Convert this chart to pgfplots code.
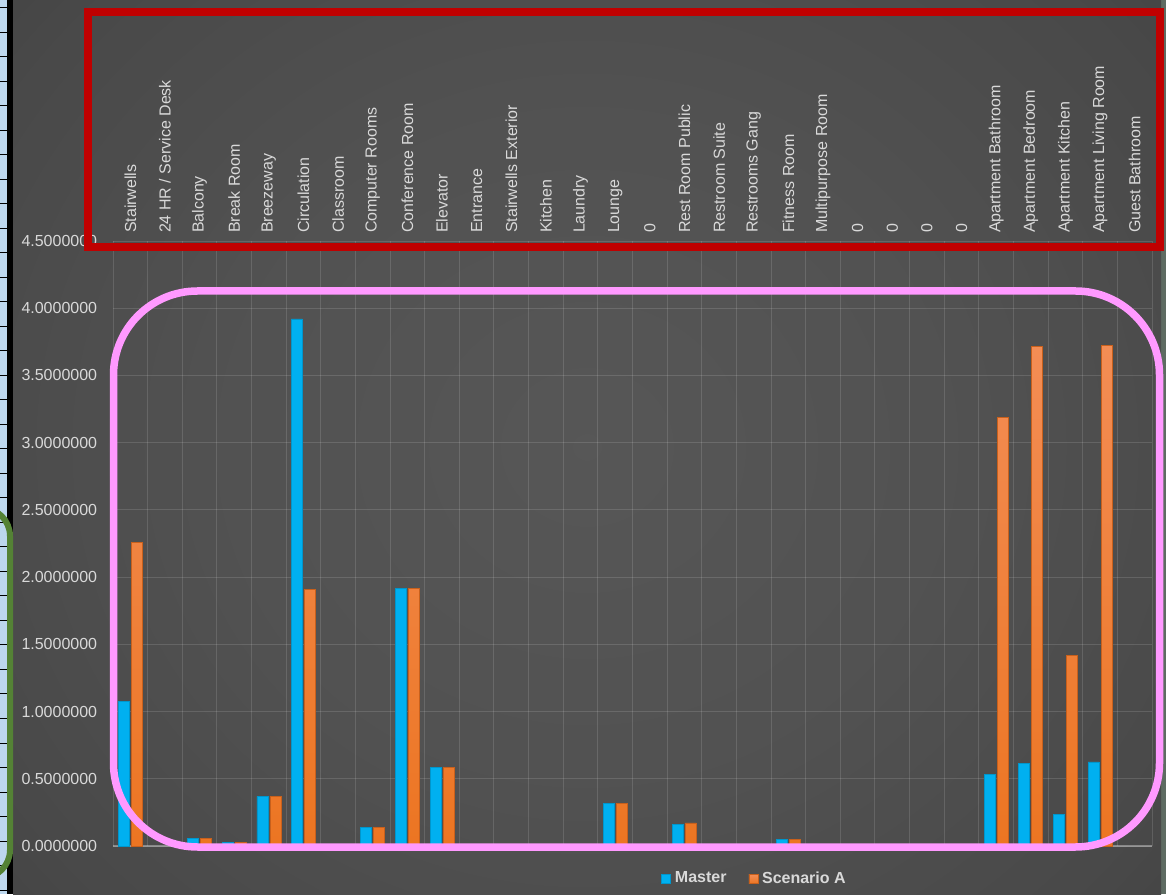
\documentclass[border=0pt]{standalone}
\usepackage{fontspec}
\setmainfont{Liberation Sans}
\usepackage{pgfplots}
\pgfplotsset{compat=1.18}
\usepackage{pgfplotstable}

\definecolor{xlblue}{HTML}{00B0F0}
\definecolor{xlblueedge}{HTML}{0096CC}
\definecolor{orangetop}{HTML}{F38D55}
\definecolor{orangebot}{HTML}{EC7522}
\definecolor{orangeedge}{HTML}{C8601C}
\definecolor{labelgray}{HTML}{D9D9D9}
\definecolor{cellblue}{HTML}{BDD7EE}
\definecolor{photo}{HTML}{5E6B62}
\definecolor{markred}{HTML}{C00000}
\definecolor{markpink}{HTML}{FF99FF}
\definecolor{markgreen}{HTML}{548235}

% softer falloff than the default inner/outer radial shading
\pgfdeclareradialshading{chartbg}{\pgfpoint{0bp}{0bp}}{%
  color(0bp)=(black!66!white); color(16bp)=(black!68!white);
  color(30bp)=(black!71.5!white); color(41bp)=(black!76!white);
  color(50bp)=(black!80!white)}

% values per room type
\pgfplotstableread{
idx master scen
0  1.075 2.257
1  0     0
2  0.057 0.057
3  0.027 0.027
4  0.370 0.370
5  3.921 1.910
6  0     0
7  0.140 0.140
8  1.917 1.917
9  0.585 0.585
10 0     0
11 0     0
12 0     0
13 0     0
14 0.318 0.318
15 0     0
16 0.162 0.172
17 0     0
18 0     0
19 0.050 0.050
20 0     0
21 0     0
22 0     0
23 0     0
24 0     0
25 0.533 3.190
26 0.615 3.715
27 0.236 1.416
28 0.625 3.725
29 0     0
}\roomdata

\begin{document}
\begin{tikzpicture}
\useasboundingbox (0,0) rectangle (583pt,447pt);
\clip (0,0) rectangle (583pt,447pt);

% surroundings of the screenshot and chart background (1 px = 0.5pt)
\begin{scope}[x=0.5pt,y=-0.5pt,yshift=447pt]
  \fill[cellblue] (0,0) rectangle (13,894);
  \foreach \yy in {8,32.5,...,894} \draw[black,line width=0.5pt] (0,\yy) -- (8,\yy);
  \fill[black] (7,0) rectangle (13,894);
  \fill[photo] (1161,0) rectangle (1166,894);
  \begin{scope}
    \clip (13,0) rectangle (1161,894);
    \shade[shading=chartbg] (13,-80) rectangle (1161,974);
  \end{scope}
\end{scope}

\begin{axis}[
    at={(56.5pt,24pt)}, anchor=south west,
    scale only axis,
    width=519.5pt, height=302.5pt,
    xmin=-0.5, xmax=29.5,
    ymin=0, ymax=4.5,
    ybar=1pt, bar width=5.5pt,
    axis line style={draw=none},
    major tick length=0pt, minor tick length=0pt,
    xtick={0,...,29},
    xticklabels={Stairwells, 24 HR / Service Desk, Balcony, Break Room, Breezeway,
      Circulation, Classroom, Computer Rooms, Conference Room, Elevator, Entrance,
      Stairwells Exterior, Kitchen, Laundry, Lounge, 0, Rest Room Public,
      Restroom Suite, Restrooms Gang, Fitness Room, Multipurpose Room, 0, 0, 0, 0,
      Apartment Bathroom, Apartment Bedroom, Apartment Kitchen,
      Apartment Living Room, Guest Bathroom},
    xticklabel pos=upper,
    xticklabel style={rotate=90, anchor=west, text=labelgray,
      font=\fontsize{8}{9}\selectfont},
    xticklabel shift=0.5pt,
    minor xtick={-0.5,0.5,...,29.5},
    xmajorgrids=false, xminorgrids=true, ymajorgrids=true,
    grid style={white, opacity=0.13, line width=0.5pt},
    minor grid style={white, opacity=0.13, line width=0.5pt},
    ytick={0,0.5,...,4.5},
    yticklabel style={text=labelgray, font=\fontsize{8}{9}\selectfont,
      /pgf/number format/.cd, fixed, fixed zerofill, precision=7,
      assume math mode=true},
    yticklabel shift=4.4pt,
    extra y ticks={0}, extra y tick labels={},
    extra y tick style={grid style={white, opacity=0.35, line width=0.7pt}},
    legend style={at={(0.6184,-0.0545)}, anchor=center, draw=none, fill=none,
      text=labelgray, font=\bfseries\fontsize{8}{9}\selectfont,
      legend columns=2,
      /tikz/every even column/.append style={column sep=9pt}},
    legend image code/.code={\fill[#1] (0pt,-2.25pt) rectangle (4.5pt,2.25pt);},
]
% zero rows are left out so that no flat bar is drawn
\addplot[fill=xlblue, draw=xlblueedge, line width=0.3pt, restrict y to domain=0.001:10]
  table[x=idx, y=master] {\roomdata};
\addplot[top color=orangetop, bottom color=orangebot, draw=orangeedge, line width=0.3pt,
  restrict y to domain=0.001:10]
  table[x=idx, y=scen] {\roomdata};
\legend{Master, Scenario A}
\end{axis}

% highlight marks drawn over the screenshot
\begin{scope}[x=0.5pt,y=-0.5pt,yshift=447pt]
  \draw[markred, line width=4pt] (87.5,12) rectangle (1160,247);
  \draw[markpink, line width=3.75pt, rounded corners=42pt] (113.5,291) rectangle (1159.5,847);
  \draw[markgreen, line width=3pt, rounded corners=14pt] (-40,508) rectangle (10,878);
\end{scope}
\end{tikzpicture}
\end{document}
